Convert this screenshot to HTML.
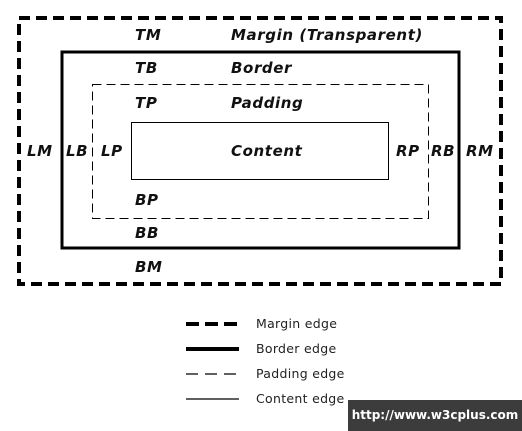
<!DOCTYPE html>
<html><head><style>
body{margin:0;background:#fff;width:522px;height:431px;overflow:hidden;position:relative}
svg{position:absolute;left:0;top:0}
.l{font-family:"DejaVu Sans",Verdana,sans-serif;font-weight:bold;font-style:italic;font-size:15px;letter-spacing:0.6px;fill:#111}
.g{font-family:"DejaVu Sans",Verdana,sans-serif;font-size:12.5px;letter-spacing:0.3px;fill:#222}
#wm{position:absolute;left:348px;top:400px;width:174px;height:31px;background:#3c3c3c;color:#fff;font-family:"DejaVu Sans",sans-serif;font-weight:bold;font-size:12px;line-height:31px;text-align:center}
</style></head><body>
<svg width="522" height="431">
<rect x="19" y="18" width="482" height="266" fill="none" stroke="#000" stroke-width="4" stroke-dasharray="11,6"/>
<rect x="62" y="52" width="397" height="196" fill="none" stroke="#000" stroke-width="3"/>
<rect x="92.5" y="84.5" width="336" height="134" fill="none" stroke="#000" stroke-width="1" stroke-dasharray="9,5"/>
<rect x="131.5" y="122.5" width="257" height="57" fill="none" stroke="#000" stroke-width="1"/>
<text class="l" x="135" y="40">TM</text>
<text class="l" x="231" y="40">Margin (Transparent)</text>
<text class="l" x="135" y="73">TB</text>
<text class="l" x="231" y="73">Border</text>
<text class="l" x="135" y="108">TP</text>
<text class="l" x="231" y="108">Padding</text>
<text class="l" x="27" y="156">LM</text>
<text class="l" x="66" y="156">LB</text>
<text class="l" x="101" y="156">LP</text>
<text class="l" x="231" y="156">Content</text>
<text class="l" x="396" y="156">RP</text>
<text class="l" x="431" y="156">RB</text>
<text class="l" x="466" y="156">RM</text>
<text class="l" x="135" y="205">BP</text>
<text class="l" x="135" y="238">BB</text>
<text class="l" x="135" y="272">BM</text>
<line x1="186" y1="324" x2="239" y2="324" stroke="#000" stroke-width="4" stroke-dasharray="13,6"/>
<line x1="186" y1="349" x2="239" y2="349" stroke="#000" stroke-width="4"/>
<line x1="186" y1="374" x2="239" y2="374" stroke="#000" stroke-width="1.2" stroke-dasharray="12,7"/>
<line x1="186" y1="399" x2="239" y2="399" stroke="#000" stroke-width="1.2"/>
<text class="g" x="256" y="328">Margin edge</text>
<text class="g" x="256" y="353">Border edge</text>
<text class="g" x="256" y="378">Padding edge</text>
<text class="g" x="256" y="403">Content edge</text>
</svg>
<div id="wm">http://www.w3cplus.com</div>
</body></html>
